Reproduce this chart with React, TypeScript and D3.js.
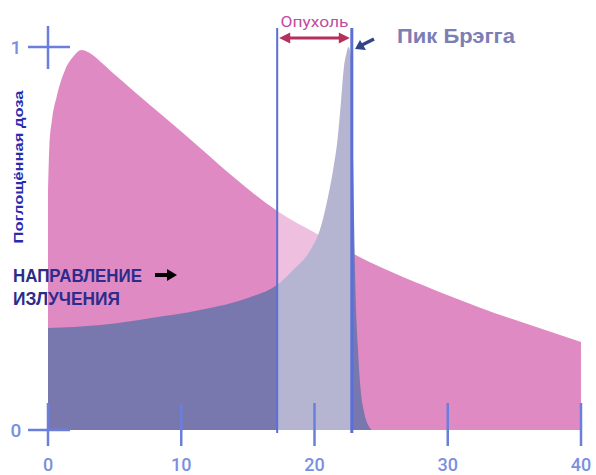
import React from "react";
import * as d3 from "d3";

// Photon (X-ray) dose curve: depth -> relative dose
const photonDepth = [0, 0.1, 0.3, 0.65, 1.28, 1.9, 2.5, 3.1, 3.9, 5.0, 6.4, 8.9, 11.4, 13.9, 17.2, 20.3, 23.2, 30, 40];
const photonDose = [0.62, 0.74, 0.81, 0.87, 0.94, 0.975, 0.992, 0.985, 0.963, 0.928, 0.886, 0.812, 0.737, 0.661, 0.572, 0.51, 0.455, 0.352, 0.23];

// Proton dose curve (Bragg peak)
const protonDepth = [0, 3.9, 7.65, 11.4, 15.2, 17.2, 18.4, 19.7, 20.4, 20.9, 21.4, 21.7, 22.0, 22.2, 22.4, 22.55, 22.75, 22.9, 23.05, 23.25, 23.45, 23.7, 24.0, 24.3];
const protonDose = [0.266, 0.274, 0.292, 0.313, 0.347, 0.379, 0.418, 0.47, 0.522, 0.59, 0.68, 0.75, 0.862, 0.945, 0.984, 1.0, 0.97, 0.7, 0.4, 0.22, 0.11, 0.05, 0.015, 0];

const xTicks = [0, 10, 20, 30, 40];
const yTicks = [0, 1];
const tumorRange = [17.2, 22.8];

const yAxisLabel = "Поглощённая доза";
const tumorLabel = "Опухоль";
const braggLabel = "Пик Брэгга";
const directionLines = ["НАПРАВЛЕНИЕ", "ИЗЛУЧЕНИЯ"];

const W = 596;
const H = 475;

export default function App() {
  const x = d3.scaleLinear().domain([0, 40]).range([48, 581]);
  const y = d3.scaleLinear().domain([0, 1]).range([430, 47]);

  const photon = photonDepth.map((d, i) => [d, photonDose[i]] as [number, number]);
  const proton = protonDepth.map((d, i) => [d, protonDose[i]] as [number, number]);

  const area = d3
    .area<[number, number]>()
    .x((d) => x(d[0]))
    .y0(y(0))
    .y1((d) => y(d[1]))
    .curve(d3.curveMonotoneX);

  const tx0 = x(tumorRange[0]);
  const tx1 = x(tumorRange[1]);
  const tickColor = "#6a7fdc";
  const labelColor = "#7b8fe0";
  const lineColor = "#5b6fd6";
  const arrowY = 38;

  return (
    <svg
      width={W}
      height={H}
      style={{ position: "absolute", left: 0, top: 0, background: "#fff" }}
      fontFamily="Roboto, 'Liberation Sans', Arial, sans-serif"
    >
      <rect x={0} y={0} width={W} height={H} fill="#fff" />
      <path d={area(photon) || ""} fill="#e08ac4" />
      <path d={area(proton) || ""} fill="#7878ae" />
      <rect x={tx0} y={0} width={tx1 - tx0} height={y(0)} fill="#fff" opacity={0.45} />

      {/* tumor boundaries */}
      <line x1={tx0} x2={tx0} y1={28} y2={433} stroke={lineColor} strokeWidth={2} />
      <line x1={tx1} x2={tx1} y1={28} y2={433} stroke={lineColor} strokeWidth={3} />

      {/* y axis crosses */}
      {yTicks.map((t) => (
        <g key={"y" + t}>
          <line x1={x(0) - 20} x2={x(0) + 22} y1={y(t)} y2={y(t)} stroke={tickColor} strokeWidth={2.5} />
          <text x={16} y={y(t) + 7} fontSize={19} fill={labelColor} textAnchor="middle" fontWeight={500}>
            {t}
          </text>
        </g>
      ))}
      <line x1={x(0)} x2={x(0)} y1={y(1) - 21} y2={y(1) + 22} stroke={tickColor} strokeWidth={2.5} />

      {/* x ticks */}
      {xTicks.map((t) => (
        <g key={"x" + t}>
          <line x1={x(t)} x2={x(t)} y1={403} y2={446} stroke={tickColor} strokeWidth={2.5} />
          <text x={x(t)} y={471} fontSize={18} fill={labelColor} textAnchor="middle" fontWeight={500}>
            {t}
          </text>
        </g>
      ))}

      {/* y axis label */}
      <text
        transform="translate(23,167) rotate(-90)"
        textAnchor="middle"
        fontSize={13}
        fontWeight={600}
        fill="#2a2ab0"
        fontFamily="'Liberation Sans', Arial, sans-serif"
        textLength={153}
        lengthAdjust="spacingAndGlyphs"
      >
        {yAxisLabel}
      </text>

      {/* tumor label + double arrow */}
      <text
        x={(tx0 + tx1) / 2}
        y={27}
        textAnchor="middle"
        fontSize={14}
        fill="#c04ca0"
        textLength={68}
        lengthAdjust="spacingAndGlyphs"
      >
        {tumorLabel}
      </text>
      <line x1={tx0 + 10} x2={tx1 - 10} y1={arrowY} y2={arrowY} stroke="#b5305c" strokeWidth={3} />
      <path
        d={`M${tx0 + 2},${arrowY} L${tx0 + 13},${arrowY - 5.5} L${tx0 + 13},${arrowY + 5.5} Z`}
        fill="#b5305c"
      />
      <path
        d={`M${tx1 - 2},${arrowY} L${tx1 - 13},${arrowY - 5.5} L${tx1 - 13},${arrowY + 5.5} Z`}
        fill="#b5305c"
      />

      {/* Bragg peak label */}
      <text
        x={397}
        y={43}
        fontSize={21}
        fontWeight="bold"
        fill="#7c7eb4"
        fontFamily="'Liberation Sans', Arial, sans-serif"
        textLength={118}
        lengthAdjust="spacingAndGlyphs"
      >
        {braggLabel}
      </text>
      <line x1={374} y1={39} x2={362} y2={45} stroke="#33458a" strokeWidth={3.5} />
      <path d="M355,49 L360,40 L366,50 Z" fill="#33458a" />

      {/* direction label */}
      {directionLines.map((s, i) => (
        <text
          key={s}
          x={13}
          y={282 + i * 23}
          fontSize={18}
          fontWeight="bold"
          fill="#2c2c8c"
          fontFamily="'Liberation Sans', Arial, sans-serif"
          textLength={i === 0 ? 129 : 107}
          lengthAdjust="spacingAndGlyphs"
        >
          {s}
        </text>
      ))}
      <line x1={155} x2={168} y1={275} y2={275} stroke="#000" strokeWidth={4} />
      <path d="M177,275 L167,269 L167,281 Z" fill="#000" />
    </svg>
  );
}
